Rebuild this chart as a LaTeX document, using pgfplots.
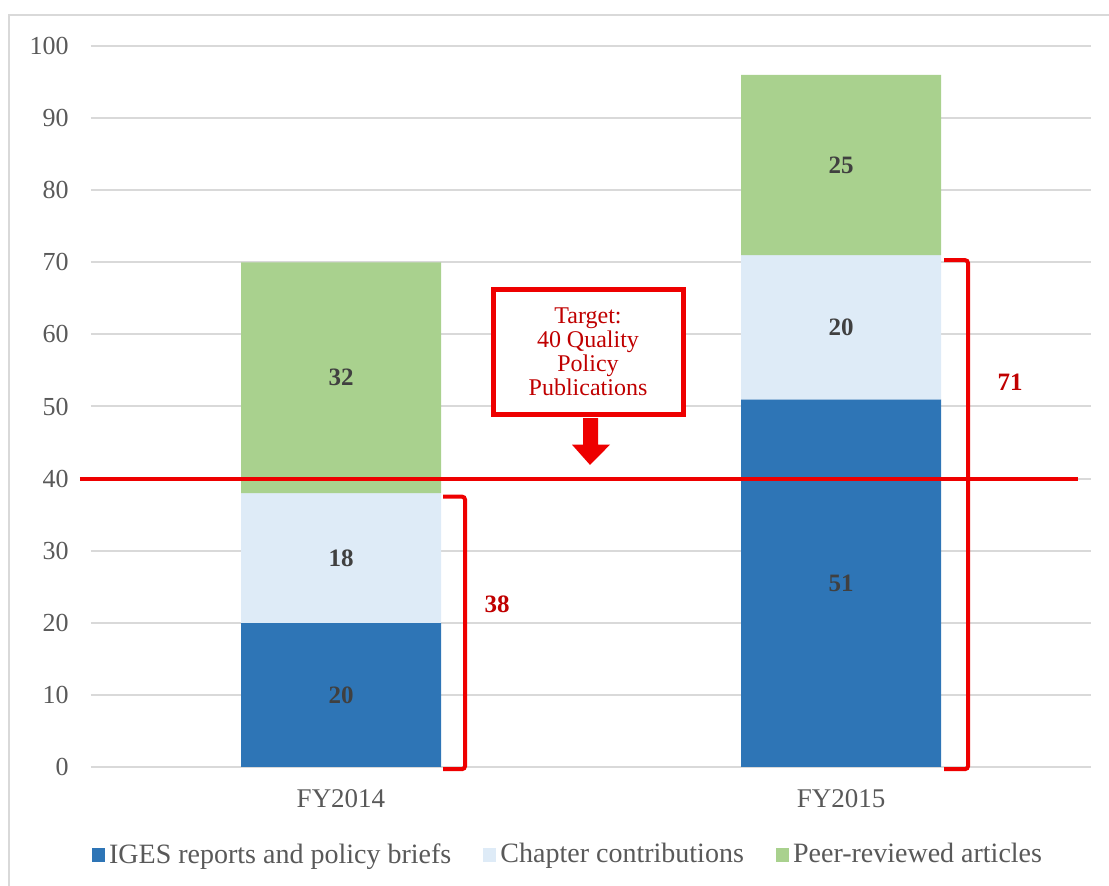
\documentclass[border=0pt]{standalone}
\usepackage{fontspec}
\setmainfont{Liberation Serif}
\usepackage{pgfplots}
\pgfplotsset{compat=1.18}
\definecolor{cBlue}{HTML}{2E75B6}
\definecolor{cLight}{HTML}{DEEBF7}
\definecolor{cGreen}{HTML}{A9D18E}
\definecolor{cGrid}{HTML}{D9D9D9}
\definecolor{cRed}{HTML}{EE0000}
\definecolor{cDRed}{HTML}{C00000}
\definecolor{cText}{HTML}{595959}
\definecolor{cLab}{HTML}{404040}
\begin{document}
\fontsize{12}{14}\selectfont
\begin{tikzpicture}
\useasboundingbox (-45.5pt,-59.5pt) rectangle (509pt,383.5pt);
\draw[cGrid, line width=1.2pt] (-41pt,-59.5pt) -- (-41pt,376pt) -- (509pt,376pt);
\begin{axis}[
  at={(0,0)}, anchor=south west,
  scale only axis, width=500pt, height=360.5pt,
  xmin=-0.5, xmax=1.5, ymin=0, ymax=100,
  ybar stacked, reverse stacked plots=false, bar width=100pt,
  xtick={0,1}, xticklabels={FY2014,FY2015},
  ytick={0,10,...,100},
  ymajorgrids, grid style={cGrid, line width=1pt},
  axis line style={draw=none}, major tick length=0pt,
  tick label style={text=cText, font=\fontsize{13}{15}\selectfont},
  /pgf/number format/assume math mode=true,
  yticklabel style={xshift=-7pt},
  xticklabel style={yshift=-7pt, font=\fontsize{13.5}{15}\selectfont},
  clip=false,
  legend style={draw=none, at={(0.478,-0.122)}, anchor=center, legend columns=-1,
    font=\fontsize{14}{16}\selectfont, text=cText,
    /tikz/every even column/.append style={column sep=14pt}},
  legend image code/.code={\fill[#1] (0pt,-3.3pt) rectangle (6.6pt,3.3pt);},
]
\addplot[fill=cBlue, draw=none] coordinates {(0,20) (1,51)};
\addplot[fill=cLight, draw=none] coordinates {(0,18) (1,20)};
\addplot[fill=cGreen, draw=none] coordinates {(0,32) (1,25)};
\legend{IGES reports and policy briefs, Chapter contributions, Peer-reviewed articles}

\node[font=\bfseries\fontsize{12.5}{14}\selectfont, text=cLab] at (axis cs:0,10) {20};
\node[font=\bfseries\fontsize{12.5}{14}\selectfont, text=cLab] at (axis cs:0,29) {18};
\node[font=\bfseries\fontsize{12.5}{14}\selectfont, text=cLab] at (axis cs:0,54) {32};
\node[font=\bfseries\fontsize{12.5}{14}\selectfont, text=cLab] at (axis cs:1,25.5) {51};
\node[font=\bfseries\fontsize{12.5}{14}\selectfont, text=cLab] at (axis cs:1,61) {20};
\node[font=\bfseries\fontsize{12.5}{14}\selectfont, text=cLab] at (axis cs:1,83.5) {25};

\draw[cRed, line width=2pt] (axis cs:-0.522,40) -- (axis cs:1.474,40);
\draw[cRed, line width=2pt, rounded corners=1.5pt] (axis cs:0.204,37.5) -- (axis cs:0.248,37.5) -- (axis cs:0.248,-0.3) -- (axis cs:0.204,-0.3);
\draw[cRed, line width=2pt, rounded corners=1.5pt] (axis cs:1.206,70.3) -- (axis cs:1.254,70.3) -- (axis cs:1.254,-0.3) -- (axis cs:1.206,-0.3);

\node[font=\bfseries\fontsize{12.5}{14}\selectfont, text=cDRed] at (axis cs:0.312,22.5) {38};
\node[font=\bfseries\fontsize{12.5}{14}\selectfont, text=cDRed] at (axis cs:1.338,53.3) {71};

\node[draw=cRed, line width=2.5pt, fill=white, minimum width=95pt, minimum height=62.5pt,
  align=center, text=cDRed, inner sep=2pt, font=\fontsize{12}{12}\selectfont]
  at (axis cs:0.494,57.6) {Target:\\40 Quality\\Policy\\Publications};
\fill[cRed] (axis cs:0.484,48.4) -- (axis cs:0.514,48.4) -- (axis cs:0.514,44.7) -- (axis cs:0.538,44.7)
  -- (axis cs:0.498,41.9) -- (axis cs:0.462,44.7) -- (axis cs:0.484,44.7) -- cycle;
\end{axis}
\end{tikzpicture}
\end{document}
